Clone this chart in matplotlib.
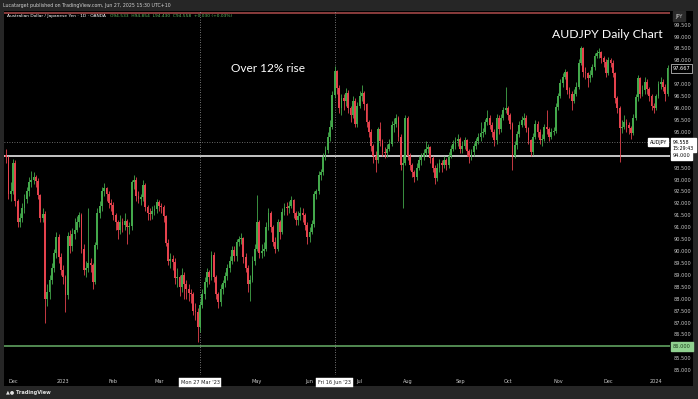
import matplotlib
matplotlib.use("Agg")
import matplotlib.pyplot as plt
import numpy as np
import pandas as pd

# AUDJPY daily candles, 28 Nov 2022 .. 8 Jan 2024
first_open = 94.05
closes = [
    93.95, 92.4, 92.5, 93.7, 92.1, 91.2, 91.4, 91.8, 92.2, 92.5,
    92.9, 93.0, 93.1, 92.95, 92.35, 91.4, 91.55, 88.0, 88.3, 88.8,
    89.3, 89.9, 90.6, 89.75, 89.2, 88.9, 88.15, 90.65, 90.2, 90.7,
    90.9, 91.2, 91.5, 90.1, 89.2, 89.3, 89.5, 89.4, 88.7, 90.25,
    91.6, 91.9, 92.5, 92.65, 92.4, 92.0, 91.95, 91.5, 91.2, 90.9,
    91.2, 91.1, 91.25, 91.0, 91.05, 92.9, 93.0, 92.3, 92.2, 92.25,
    92.75, 91.85, 91.6, 91.55, 91.7, 91.75, 92.05, 91.9, 91.85, 91.45,
    90.35, 89.6, 89.65, 89.55, 88.85, 88.9, 88.5, 89.0, 88.6, 88.4,
    88.25, 88.2, 87.5, 87.45, 86.8, 87.75, 88.2, 88.7, 89.1, 88.9,
    89.85, 88.9, 88.2, 87.85, 88.4, 88.65, 88.95, 89.3, 89.6, 90.05,
    89.8, 90.4, 90.5, 90.55, 89.75, 89.3, 88.6, 88.8, 89.6, 90.1,
    91.2, 89.9, 90.0, 90.1, 91.0, 91.6, 91.0, 90.4, 90.1, 91.2,
    90.8, 91.65, 91.85, 91.8, 91.9, 92.15, 91.6, 91.3, 91.45, 91.6,
    91.5, 91.1, 90.6, 90.8, 91.15, 92.4, 92.5, 93.2, 93.3, 93.95,
    94.25, 94.8, 95.2, 96.55, 97.55, 96.85, 96.0, 96.4, 96.3, 96.65,
    96.0, 95.7, 96.3, 95.35, 96.1, 96.5, 96.65, 96.15, 95.4, 95.0,
    94.4, 94.0, 93.8, 95.1, 94.6, 94.15, 94.1, 94.3, 94.5, 95.3,
    95.35, 95.6, 94.8, 93.6, 93.7, 95.6, 94.0, 93.6, 93.3, 93.1,
    93.5, 93.8, 93.95, 94.1, 94.3, 94.35, 93.9, 93.5, 93.05, 93.5,
    93.7, 93.6, 93.8, 93.6, 94.0, 94.3, 94.5, 94.6, 94.7, 94.3,
    94.4, 94.65, 94.2, 93.95, 94.15, 94.4, 94.6, 94.8, 94.95, 95.0,
    95.4, 95.6, 95.3, 95.0, 94.65, 95.6, 95.1, 95.6, 95.9, 96.0,
    95.7, 95.35, 94.0, 94.45, 94.9, 95.3, 95.5, 95.6, 95.15, 94.65,
    94.15, 94.8, 95.35, 95.0, 94.65, 94.7, 95.2, 95.1, 94.8, 95.0,
    95.05, 96.05, 96.5, 97.05, 97.3, 97.5, 96.75, 96.6, 96.3, 96.6,
    96.9, 97.9, 98.5, 97.5, 97.45, 97.25, 97.4, 97.7, 98.2, 98.3,
    98.35, 98.1, 97.95, 97.45, 98.0, 97.9, 97.45, 96.4, 96.0, 95.15,
    95.2, 95.4, 95.3, 95.15, 94.95, 95.6, 96.45, 97.25, 96.6, 96.75,
    97.1, 96.8, 96.5, 96.1, 96.0, 96.5, 97.0, 97.1, 96.9, 96.6,
    97.667,
]
highs = [
    94.3, 94.0, 92.9, 93.85, 93.8, 92.2, 91.6, 92.0, 92.4, 92.7,
    93.1, 93.35, 93.3, 93.2, 93.05, 92.4, 91.8, 91.7, 88.6, 89.0,
    89.5, 90.1, 90.8, 90.7, 89.9, 89.4, 89.0, 90.8, 90.9, 90.95,
    91.4, 91.45, 91.65, 91.6, 90.3, 89.6, 91.8, 89.7, 89.5, 90.4,
    91.8, 92.1, 92.7, 92.85, 92.7, 92.5, 92.2, 92.05, 91.6, 91.3,
    91.5, 91.4, 91.6, 91.35, 91.2, 93.0, 93.2, 93.1, 92.5, 92.4,
    93.0, 92.85, 91.95, 91.8, 91.9, 91.95, 92.2, 92.15, 92.0, 91.95,
    91.5, 90.5, 89.9, 89.85, 89.7, 89.3, 89.0, 89.3, 89.1, 88.8,
    88.6, 88.4, 88.3, 87.8, 87.6, 87.9, 88.4, 88.9, 89.3, 89.2,
    90.0, 89.95, 89.0, 88.3, 88.6, 88.8, 89.1, 89.45, 89.8, 90.2,
    90.2, 90.5, 90.65, 90.75, 90.6, 89.9, 89.4, 89.0, 89.8, 90.3,
    92.35, 91.3, 90.3, 90.4, 91.2, 91.8, 91.7, 91.1, 90.6, 91.35,
    91.3, 91.8, 92.0, 92.05, 92.1, 92.3, 92.2, 91.7, 91.7, 91.85,
    91.8, 91.6, 91.2, 91.0, 91.3, 92.5, 92.6, 93.35, 93.45, 94.1,
    94.4, 95.0, 95.5, 96.7, 97.75, 97.6, 96.95, 96.6, 96.6, 96.85,
    96.75, 96.1, 96.5, 96.4, 96.25, 96.7, 96.95, 96.7, 96.2, 95.5,
    95.1, 94.5, 94.2, 95.2, 95.4, 94.7, 94.35, 94.5, 94.7, 95.45,
    95.6, 95.75, 95.65, 94.9, 94.0, 95.7, 95.65, 94.1, 93.7, 93.4,
    93.7, 94.0, 94.1, 94.3, 94.6, 94.5, 94.4, 94.0, 93.6, 93.7,
    93.85, 93.8, 94.0, 93.9, 94.15, 94.45, 94.65, 94.8, 94.9, 94.8,
    94.6, 94.8, 94.7, 94.3, 94.3, 94.55, 94.75, 94.95, 95.4, 95.15,
    95.55, 95.9, 95.7, 95.4, 95.1, 95.75, 95.7, 95.75, 96.05, 96.9,
    96.1, 95.8, 95.4, 94.6, 95.05, 95.45, 95.65, 95.8, 95.7, 95.2,
    94.7, 94.95, 95.5, 95.45, 95.1, 94.9, 95.35, 95.9, 95.2, 95.15,
    95.2, 96.2, 96.65, 97.2, 97.45, 97.65, 97.55, 96.9, 96.7, 96.8,
    97.1, 98.05, 98.6, 98.55, 97.7, 97.5, 97.6, 97.85, 98.3, 98.45,
    98.5, 98.4, 98.2, 98.05, 98.15, 98.1, 98.0, 97.5, 96.5, 96.1,
    95.5, 95.7, 95.55, 95.4, 95.25, 95.75, 96.6, 97.4, 97.3, 96.95,
    97.3, 97.2, 96.9, 96.6, 96.2, 96.6, 97.15, 97.3, 97.2, 97.0,
    97.8,
]
lows = [
    93.7, 92.2, 92.1, 92.4, 91.9, 91.0, 91.0, 91.2, 91.6, 92.0,
    92.3, 92.7, 92.8, 92.7, 92.2, 91.2, 91.2, 87.0, 87.7, 88.0,
    88.6, 89.1, 89.7, 89.5, 89.0, 88.6, 87.45, 88.0, 89.9, 90.0,
    90.5, 90.8, 91.0, 89.9, 89.0, 88.9, 89.1, 89.1, 88.4, 88.6,
    90.1, 91.4, 91.7, 92.3, 92.1, 91.8, 91.7, 91.3, 90.9, 90.5,
    90.7, 90.8, 90.9, 90.3, 90.7, 90.9, 92.6, 92.1, 92.0, 91.95,
    92.1, 91.7, 91.3, 91.3, 91.35, 91.5, 91.6, 91.7, 91.6, 91.2,
    90.2, 89.4, 89.3, 89.2, 88.6, 88.5, 88.1, 88.3, 88.0, 88.0,
    87.9, 87.8, 87.3, 87.1, 86.2, 86.6, 87.6, 88.0, 88.5, 88.6,
    88.8, 88.7, 88.0, 87.6, 87.7, 88.2, 88.5, 88.8, 89.1, 89.45,
    89.6, 89.6, 90.2, 90.3, 89.5, 89.1, 88.3, 87.9, 88.7, 89.4,
    90.0, 89.7, 89.7, 89.8, 90.0, 90.9, 90.8, 90.2, 89.9, 90.0,
    90.5, 90.7, 91.5, 91.5, 91.6, 91.8, 91.4, 91.1, 91.1, 91.3,
    91.2, 90.9, 90.3, 90.4, 90.7, 91.0, 92.2, 92.4, 93.0, 93.2,
    93.8, 94.1, 94.6, 95.1, 96.4, 96.6, 95.8, 95.7, 95.9, 96.1,
    95.8, 95.4, 95.6, 95.2, 95.2, 96.0, 96.3, 95.9, 95.2, 94.8,
    94.2, 93.7, 93.3, 93.7, 94.4, 94.0, 93.9, 93.95, 94.2, 94.4,
    95.0, 95.2, 94.6, 93.4, 91.8, 93.6, 93.8, 93.4, 93.1, 92.9,
    93.0, 93.4, 93.6, 93.8, 94.0, 94.1, 93.7, 93.3, 92.8, 92.95,
    93.3, 93.3, 93.5, 93.4, 93.5, 93.9, 94.2, 94.3, 94.4, 94.1,
    94.1, 94.3, 94.0, 93.7, 93.8, 94.0, 94.3, 94.5, 94.6, 94.8,
    94.9, 95.3, 95.1, 94.8, 94.4, 94.5, 94.9, 95.0, 95.5, 95.8,
    95.5, 95.1, 93.4, 93.9, 94.3, 94.8, 95.2, 95.3, 95.0, 94.5,
    94.0, 94.05, 94.7, 94.8, 94.5, 94.4, 94.6, 94.9, 94.6, 94.7,
    94.85, 94.95, 95.9, 96.4, 96.9, 97.2, 96.6, 96.4, 95.9, 96.2,
    96.5, 96.8, 97.8, 97.3, 97.2, 96.9, 97.1, 97.3, 97.6, 98.1,
    98.1, 97.9, 97.7, 97.3, 97.4, 97.7, 97.3, 96.2, 95.8, 93.75,
    94.95, 95.1, 95.0, 94.9, 94.7, 94.85, 95.5, 96.3, 96.4, 96.5,
    96.6, 96.6, 96.3, 95.9, 95.8, 95.9, 96.4, 96.8, 96.7, 96.3,
    96.5,
]
month_labels = ["Dec", "2023", "Feb", "Mar", "May", "Jun", "Jul", "Aug",
                "Sep", "Oct", "Nov", "Dec", "2024"]
# scale labels hidden under the price boxes are left out
price_ticks = [p for p in np.arange(85.0, 100.0, 0.5) if p not in (86.0, 94.0, 94.5, 97.5)]
marked_days = ["2023-03-27", "2023-06-16"]
marked_labels = ["Mon 27 Mar '23", "Fri 16 Jun '23"]
support_level = 94.0
low_level = 86.0
top_level = 100.0
last_quote = 94.558

dates = pd.bdate_range("2022-11-28", periods=len(closes))
idx = np.arange(len(closes))
c = np.array(closes)
o = np.concatenate([[first_open], c[:-1]])
h = np.array(highs)
l = np.array(lows)

W, H = 698, 399
fig = plt.figure(figsize=(W / 100, H / 100), dpi=100, facecolor="#262626")

# black chart panel (plot + price/time scales)
bg = fig.add_axes([4 / W, 1 - 386 / H, (693 - 4) / W, (386 - 11) / H])
bg.set_facecolor("black")
bg.set_xticks([])
bg.set_yticks([])
for s in bg.spines.values():
    s.set_visible(False)

x0, x1 = 4, 669.6
y0, y1 = 11, 375
ax = fig.add_axes([x0 / W, 1 - y1 / H, (x1 - x0) / W, (y1 - y0) / H])
ax.set_facecolor("none")
for s in ax.spines.values():
    s.set_visible(False)
ax.set_xlim(-0.96, 290.9)
ax.set_ylim(84.80, 100.07)

green, red = "#43a84b", "#e5424d"
colors = np.where(c >= o, green, red)
ax.vlines(idx, l, h, colors=colors, linewidth=0.6, zorder=3)
body = np.maximum(np.abs(c - o), 0.03)
ax.bar(idx, body, bottom=np.minimum(o, c), width=0.8, color=colors,
       linewidth=0, zorder=4)

# drawn levels
ax.axhline(top_level, color="#a04646", linewidth=1.2, zorder=2)
ax.axhline(support_level, color="#e6e6e6", linewidth=1.2, zorder=2)
ax.axhline(low_level, color="#5fa05f", linewidth=1.2, zorder=2)
ax.axhline(last_quote, color="#8a8a8a", linewidth=0.6, linestyle=(0, (1, 2)), zorder=2)

# price scale
ax.yaxis.tick_right()
ax.set_yticks(price_ticks)
ax.set_yticklabels(["%.3f" % p for p in price_ticks])
ax.tick_params(axis="y", length=0, pad=3, labelsize=3.6, labelcolor="#c8c8c8")

# time scale
month_pos = [int(np.argmax((dates.year == d.year) & (dates.month == d.month)))
             for d in pd.date_range("2022-12-01", "2024-01-01", freq="MS") if d.month != 4]
ax.set_xticks(month_pos)
ax.set_xticklabels(month_labels)
ax.tick_params(axis="x", length=0, pad=3, labelsize=3.6, labelcolor="#c8c8c8")

marked_pos = [int(np.where(dates == pd.Timestamp(d))[0][0]) for d in marked_days]
for p, lab in zip(marked_pos, marked_labels):
    ax.axvline(p, color="#9a9a9a", linewidth=0.6, linestyle=(0, (1, 2)), zorder=2)
    ax.text(p, -0.014, lab, transform=ax.get_xaxis_transform(), ha="center", va="top",
            fontsize=3.6, color="#202020", zorder=6, clip_on=False,
            bbox=dict(boxstyle="square,pad=0.35", fc="white", ec="white", lw=0.3))

ytr = ax.get_yaxis_transform()
ax.text(1.005, support_level, "94.000", transform=ytr, ha="left", va="center", fontsize=3.6,
        color="black", zorder=6, clip_on=False,
        bbox=dict(boxstyle="square,pad=0.35", fc="white", ec="white"))
ax.text(1.005, low_level, "86.000", transform=ytr, ha="left", va="center", fontsize=3.6,
        color="#1b3d1b", zorder=6, clip_on=False,
        bbox=dict(boxstyle="square,pad=0.35", fc="#8fd18f", ec="#8fd18f"))
ax.text(1.005, last_quote + 0.12, "94.558\n15:29:43", transform=ytr, ha="left", va="top",
        fontsize=3.4, color="black", zorder=6, clip_on=False, linespacing=1.3,
        bbox=dict(boxstyle="square,pad=0.35", fc="white", ec="white"))
ax.text(0.996, last_quote, "AUDJPY", transform=ytr, ha="right", va="center", fontsize=3.4,
        color="black", zorder=6, clip_on=False,
        bbox=dict(boxstyle="square,pad=0.3", fc="white", ec="white"))
ax.text(1.005, closes[-1], "%.3f" % closes[-1], transform=ytr, ha="left", va="center",
        fontsize=3.6, color="white", zorder=6, clip_on=False,
        bbox=dict(boxstyle="square,pad=0.35", fc="black", ec="#dcdcdc", lw=0.5))
ax.text(1.008, 99.85, "JPY", transform=ytr, ha="left", va="center", fontsize=3.6,
        color="#c8c8c8", zorder=6, clip_on=False,
        bbox=dict(boxstyle="square,pad=0.45", fc="#2a2a2a", ec="#2a2a2a"))

# annotations
ax.text(115, 97.65, "Over 12% rise", ha="center", va="center", fontsize=8.6,
        color="white", family="Lato", zorder=6)
ax.text(263.5, 99.1, "AUDJPY Daily Chart", ha="center", va="center", fontsize=8.8,
        color="white", family="Lato", zorder=6)

# header, legend, footer
fig.text(3 / W, 1 - 5 / H, "Lucatarget published on TradingView.com, Jun 27, 2025 15:30 UTC+10",
         ha="left", va="center", fontsize=3.4, color="#d0d0d0")
name = fig.text(7 / W, 1 - 16 / H, "Australian Dollar / Japanese Yen \u00b7 1D \u00b7 OANDA",
                ha="left", va="center", fontsize=3.2, color="white")
fig.canvas.draw()
name_end = name.get_window_extent(fig.canvas.get_renderer()).x1
fig.text((name_end + 4) / W, 1 - 16 / H, "O94.533  H94.854  L94.430  C94.558  +0.030 (+0.03%)",
         ha="left", va="center", fontsize=3.2, color="#5fbf63")
fig.text(6 / W, 1 - 392.5 / H, "\u25b2\u25cf TradingView", ha="left", va="center",
         fontsize=3.6, color="#e0e0e0", weight="bold")

fig.savefig("out.png", dpi=100, facecolor=fig.get_facecolor())
